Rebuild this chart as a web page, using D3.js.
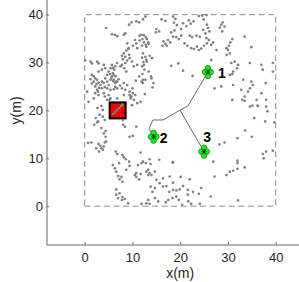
<!DOCTYPE html>
<html>
<head>
<meta charset="utf-8">
<script src="https://cdn.jsdelivr.net/npm/d3@7"></script>
<style>
  body { margin: 0; background: #fff; }
  svg { display: block; }
  text { font-family: "Liberation Sans", Arial, Helvetica, sans-serif; }
</style>
</head>
<body>
<svg id="chart" width="299" height="282"></svg>
<script>
/*
 * Scattered gray points (m)
 */
var points = [
  // top band
  [12.7,39.6],[12.2,39.0],[16.1,39.0],[16.9,38.7],[18.5,39.6],[19.0,39.1],[18.7,38.3],[19.3,37.8],
  [20.6,38.2],[21.3,37.6],[21.8,38.8],[22.2,38.1],[22.8,38.6],[23.9,39.7],[24.6,39.8],[25.5,39.9],
  [24.9,39.0],[25.6,37.9],[25.8,37.2],[26.1,36.5],[25.3,36.1],[24.8,36.8],[28.6,37.9],[28.9,38.4],
  [28.3,37.3],[4.5,37.2],[9.3,37.9],[9.8,38.4],[10.8,38.6],[11.4,38.4],[15.0,37.0],[15.6,36.5],
  [14.9,36.3],[18.1,36.3],[18.8,36.7],[20.2,37.0],[28.8,36.5],[29.3,37.5],
  // y 30..36
  [6.3,35.8],[6.8,35.5],[5.7,35.9],[8.2,35.8],[8.5,36.1],[11.5,35.6],[11.9,35.8],[12.4,35.7],
  [12.8,35.3],[13.0,34.9],[12.1,34.9],[11.5,34.6],[13.3,34.2],[12.4,34.2],[12.8,33.7],[12.0,33.5],
  [10.5,34.7],[10.8,34.0],[10.1,33.5],[11.0,33.0],[13.4,33.9],[12.9,33.3],[8.9,34.0],[9.2,33.0],
  [8.7,32.5],[8.2,31.9],[7.8,31.4],[8.5,31.2],[9.4,30.9],[8.9,30.4],[9.1,32.8],[9.3,31.6],[8.0,30.7],
  [16.5,34.4],[16.9,33.9],[17.4,34.7],[17.9,34.2],[16.3,33.5],[17.2,33.5],[18.5,35.4],[19.2,35.3],
  [19.7,34.9],[20.2,35.6],[20.9,34.0],[21.5,33.5],[22.3,33.0],[22.9,32.8],[23.5,33.3],[23.9,32.6],
  [24.4,32.9],[25.0,33.5],[25.6,34.0],[25.5,35.1],[26.0,34.7],[26.5,33.7],[26.9,34.2],[27.6,32.6],
  [24.1,35.4],[23.4,35.6],[22.5,35.3],[22.0,35.6],[29.7,31.6],[30.4,31.9],[30.0,32.6],[33.5,35.4],
  [34.9,33.2],[30.5,34.2],[30.9,34.9],[30.2,33.5],[29.7,33.0],[12.2,31.9],[12.7,31.2],[12.0,31.0],
  [12.9,30.6],[12.3,30.1],[13.6,31.4],[14.1,30.9],[13.0,30.2],[9.9,30.2],[26.5,30.5],
  // left cluster, y 20..30
  [8.5,29.9],[7.8,29.5],[6.8,29.9],[7.5,29.2],[8.3,28.8],[8.7,28.1],[10.3,29.2],[11.0,29.5],
  [12.0,29.2],[12.5,28.5],[13.4,28.1],[13.9,27.1],[12.7,26.4],[12.2,25.7],
  [0.1,30.4],[1.2,30.2],[1.5,29.8],[2.6,30.2],[2.9,29.8],[4.0,29.5],[4.3,28.8],[3.6,28.5],
  [2.9,28.1],[1.5,27.4],[1.9,27.1],[2.2,26.7],[2.6,26.4],[1.9,26.0],[2.9,25.8],[3.3,25.3],
  [4.0,25.7],[4.7,26.0],[5.4,26.4],[5.7,27.1],[5.9,27.8],[6.2,28.5],[6.4,29.2],[5.7,29.5],
  [5.4,28.8],[5.0,28.1],[4.7,27.4],[4.3,26.7],[6.1,26.4],[6.4,25.7],[6.8,26.0],[7.1,26.5],
  [5.0,25.3],[4.7,24.6],[5.4,24.3],[6.1,24.4],[6.8,24.6],[3.6,24.6],[2.6,24.3],[2.2,23.6],
  [2.9,23.2],[4.0,23.6],[5.0,23.2],[5.4,22.5],[4.7,22.2],[1.9,22.5],[0.8,21.8],[0.5,23.9],
  [8.2,25.7],[8.9,25.3],[8.5,24.3],[10.1,23.6],[10.6,23.2],[9.6,22.5],[10.3,22.2],[9.9,21.1],
  [11.0,21.5],[11.7,21.8],[8.2,23.2],[6.8,22.5],
  [5.9,28.9],[6.1,27.4],[5.6,26.8],[6.5,27.1],[5.3,27.6],[6.0,26.1],[6.6,26.0],[2.2,25.0],
  [1.5,25.6],[3.0,24.7],[2.5,25.5],[3.6,26.0],[1.2,26.5],[2.8,23.9],[4.2,24.9],[6.4,24.9],
  [7.4,25.2],[7.8,24.6],
  [11.4,27.1],[12.2,26.4],[11.9,26.0],[10.7,26.2],[14.0,26.7],[14.4,25.7],[14.2,24.8],[9.4,23.9],
  [10.0,24.6],[9.6,23.0],[12.6,23.4],[12.4,29.5],[12.1,27.6],[4.2,22.9],[5.2,22.2],[2.7,20.5],
  [9.4,23.2],[9.8,22.9],
  // inside the source square
  [6.0,19.3],[6.4,19.7],[6.8,20.1],[7.2,20.5],[7.6,20.9],[7.9,21.2],
  // right, y 20..30
  [30.7,29.9],[31.4,30.2],[32.1,29.5],[31.9,28.8],[31.1,28.1],[30.4,27.4],[34.6,29.9],[37.0,29.5],
  [39.4,28.1],[37.3,28.5],[39.4,29.9],[33.2,26.4],[34.9,26.0],[35.2,25.3],[34.6,24.6],[34.2,23.9],
  [32.8,24.3],[33.5,22.9],[37.0,23.6],[37.9,25.7],[36.0,22.2],[34.6,20.8],[36.3,20.9],[27.2,24.6],
  [20.6,28.3],[22.6,27.2],[30.9,27.6],[31.1,25.3],[28.6,25.0],[38.0,22.2],[38.0,20.8],[33.0,22.2],
  [30.9,22.2],[18.1,29.3],[19.6,29.8],
  // left, y 10..20
  [3.5,20.9],[3.8,20.1],[3.1,19.1],[2.3,18.4],[2.6,17.5],[2.0,17.0],[3.8,18.7],[4.2,18.0],
  [3.5,16.3],[4.0,15.2],[4.4,15.7],[4.4,14.5],[10.8,16.6],[8.0,18.0],[9.4,14.5],[10.1,14.7],
  [8.0,17.0],[8.4,16.6],[2.8,17.7],
  [0.7,13.2],[1.4,13.3],[2.4,12.1],[2.9,13.0],[3.3,12.6],[3.0,11.4],[4.5,13.5],[4.0,12.5],
  [3.5,12.1],[3.8,11.8],[4.2,13.3],[6.5,11.4],[6.8,10.9],[7.9,10.7],[8.2,10.2],[8.6,9.8],[11.7,11.2],
  // bottom, y 0..10
  [7.2,9.0],[5.9,8.6],[6.3,7.9],[6.6,7.2],[7.0,6.3],[7.3,5.6],[7.9,5.1],[7.7,6.1],[8.7,7.6],
  [9.4,8.4],[9.3,9.3],[10.5,6.5],[10.8,6.1],[11.4,5.6],[11.7,6.7],[12.2,9.3],[12.8,9.0],[13.6,9.8],
  [12.9,7.2],[14.0,6.5],[15.0,5.5],[15.7,4.8],[16.4,5.8],[17.1,4.2],[18.5,3.4],[17.7,3.0],[19.2,3.3],
  [19.9,3.5],[20.6,4.2],[21.6,3.4],[19.2,2.0],[18.4,1.7],[19.7,1.3],[6.6,3.5],[7.3,2.7],[7.9,1.9],
  [8.4,1.5],[7.0,1.7],[14.7,3.8],[14.2,3.0],[9.1,0.6],[12.9,0.6],[15.4,1.0],[17.0,0.8],
  [11.2,8.6],[13.8,8.8],[18.4,9.2],[10.8,6.9],[13.3,6.5],[14.7,7.2],[17.8,6.2],[18.5,4.9],[22.0,5.6],
  [13.8,4.1],[16.4,4.1],[21.6,2.4],[13.3,1.3],[14.7,1.7],
  [6.6,2.4],[7.8,1.3],[11.9,0.5],[13.6,0.5],[17.5,1.3],[20.4,0.3],[21.7,1.0],[22.3,0.5],[24.1,0.5],
  [22.7,3.0],[23.9,2.6],[24.4,3.8],
  [15.6,9.7],[18.5,9.1],[11.9,9.0],[13.3,7.6],[13.6,6.9],
  [20.1,6.1],[26.4,2.0],[32.1,1.2],[27.2,6.2],[26.9,9.3],
  [32.0,9.5],[32.0,9.0],[33.5,8.1],[32.0,7.8],[31.1,7.4],[30.4,7.2],[29.7,6.5],
  // right, y 10..22
  [33.5,22.0],[35.1,21.0],[36.2,21.0],[38.3,19.8],[35.5,18.4],[37.8,17.7],[39.7,17.5],[33.6,15.8],
  [35.0,14.5],[32.0,14.2],[29.3,13.3],[28.2,12.9],[37.3,10.9],[38.0,11.4],[37.5,10.0],[39.4,11.6]
];

// Source (red square) and sensors (green markers)
var source = [6.9, 20.0];
var sensorIds = ['1', '2', '3'];
var sensorX = [25.8, 14.45, 25.0];
var sensorY = [28.0, 14.5, 11.4];

// Branches of the connecting tree
var branches = [
  [[25.8, 28.0], [21.6, 20.9], [19.95, 20.05]],
  [[19.95, 20.05], [25.0, 11.4]],
  [[19.95, 20.05], [16.4, 18.0], [14.3, 18.0], [13.5, 16.2], [14.45, 14.5]]
];

var boxCorners = [[0, 0], [40, 0], [40, 40], [0, 40]];
var xTicks = [0, 10, 20, 30, 40];
var yTicks = [0, 10, 20, 30, 40];

/*
 * Scales and axes
 */
var svg = d3.select('#chart');
var x = d3.scaleLinear().domain([-8, 48]).range([46.5, 313.9]);
var y = d3.scaleLinear().domain([-8, 48]).range([244.5, -23.7]);

var xAxis = d3.axisBottom(x).tickValues(xTicks).tickSizeInner(-2.5).tickSizeOuter(0).tickPadding(8.5);
var yAxis = d3.axisLeft(y).tickValues(yTicks).tickSizeInner(-2.5).tickSizeOuter(0).tickPadding(3.5);

var gx = svg.append('g').attr('transform', 'translate(0,' + y(-8) + ')').call(xAxis);
var gy = svg.append('g').attr('transform', 'translate(' + x(-8) + ',0)').call(yAxis);

[gx, gy].forEach(function(g) {
    g.selectAll('path, line').attr('stroke', '#666');
    g.selectAll('text').attr('fill', '#262626').style('font-size', '13px');
});

svg.append('text')
    .attr('x', x(20)).attr('y', 277.5)
    .attr('text-anchor', 'middle')
    .attr('fill', '#262626')
    .style('font-size', '14px')
    .text('x(m)');

svg.append('text')
    .attr('transform', 'translate(21,' + y(20) + ') rotate(-90)')
    .attr('text-anchor', 'middle')
    .attr('fill', '#262626')
    .style('font-size', '14px')
    .text('y(m)');

// Dashed region
svg.append('path')
    .attr('d', d3.line().x(function(d) { return x(d[0]); }).y(function(d) { return y(d[1]); })(boxCorners) + 'Z')
    .attr('fill', 'none')
    .attr('stroke', '#8c8c8c')
    .attr('stroke-width', 1)
    .attr('stroke-dasharray', '6,3.6');

// Source square
var sq = 16;
svg.append('rect')
    .attr('x', x(source[0]) - sq / 2).attr('y', y(source[1]) - sq / 2)
    .attr('width', sq).attr('height', sq)
    .attr('fill', '#f00000')
    .attr('stroke', '#000')
    .attr('stroke-width', 2);

// Gray points
svg.append('g').selectAll('circle')
    .data(points)
    .enter().append('circle')
    .attr('cx', function(d) { return x(d[0]); })
    .attr('cy', function(d) { return y(d[1]); })
    .attr('r', 1.35)
    .attr('fill', '#808080');

// Tree
var line = d3.line().x(function(d) { return x(d[0]); }).y(function(d) { return y(d[1]); });
svg.append('g').selectAll('path')
    .data(branches)
    .enter().append('path')
    .attr('d', line)
    .attr('fill', 'none')
    .attr('stroke', '#444')
    .attr('stroke-width', 0.8);

// Sensor markers (four-petal)
var petals = [[0, -3.9], [0, 3.9], [-2.7, 0], [2.7, 0]];
var labelOffset = [[10, 6], [6, 6], [3, -10]];
var labelAnchor = ['start', 'start', 'middle'];

sensorIds.forEach(function(id, i) {
    var cx = x(sensorX[i]), cy = y(sensorY[i]);
    var m = svg.append('g').attr('transform', 'translate(' + cx + ',' + cy + ')');
    m.selectAll('circle')
        .data(petals)
        .enter().append('circle')
        .attr('cx', function(p) { return p[0]; })
        .attr('cy', function(p) { return p[1]; })
        .attr('r', 2.8)
        .attr('fill', '#19ef19')
        .attr('stroke', '#0a7a0a')
        .attr('stroke-width', 0.7);
    m.append('path')
        .attr('d', 'M-2,-2L2,2M-2,2L2,-2M-2.5,0L2.5,0M0,-2.5L0,2.5')
        .attr('stroke', '#111')
        .attr('stroke-width', 0.7);
    svg.append('text')
        .attr('x', cx + labelOffset[i][0])
        .attr('y', cy + labelOffset[i][1])
        .attr('text-anchor', labelAnchor[i])
        .attr('fill', '#000')
        .style('font-size', '14px')
        .style('font-weight', 'bold')
        .text(id);
});
</script>
</body>
</html>
